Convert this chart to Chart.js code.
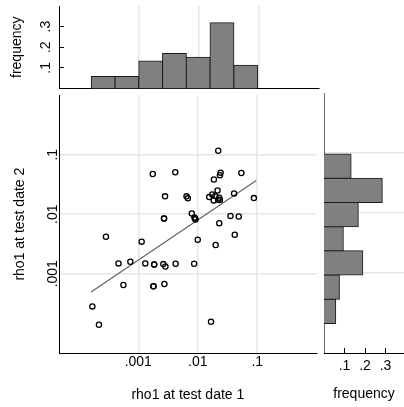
<!DOCTYPE html>
<html>
<head>
<meta charset="utf-8">
<script src="https://cdn.jsdelivr.net/npm/chart.js@4.4.0/dist/chart.umd.min.js"></script>
<style>
  html, body { margin: 0; padding: 0; background: #fff; }
  #wrap { position: relative; width: 404px; height: 407px; }
  #wrap div { position: absolute; }
</style>
</head>
<body>
<div id="wrap">
  <div style="left:0;top:0;width:322px;height:90px"><canvas id="topHist"></canvas></div>
  <div style="left:0;top:90px;width:322px;height:317px"><canvas id="scatter"></canvas></div>
  <div style="left:322px;top:90px;width:82px;height:317px"><canvas id="rightHist"></canvas></div>
</div>
<script>
// rho1 at the two test dates (one entry per subject)
var rho1Date1 = [0.0221, 0.00175, 0.00419, 0.0242, 0.0236, 0.0541, 0.0187, 0.00282, 0.00647, 0.00681,
                 0.0215, 0.0175, 0.0156, 0.0197, 0.0230, 0.0221, 0.0185, 0.0236, 0.0408, 0.0879,
                 0.00794, 0.00879, 0.00914, 0.00902, 0.00271, 0.00271, 0.0355, 0.0489, 0.0230, 0.0419,
                 0.0100, 0.0200, 0.000286, 0.00114, 0.000465, 0.000736, 0.00131, 0.00185, 0.00185, 0.00264,
                 0.00286, 0.00425, 0.00869, 0.000562, 0.00180, 0.00180, 0.00275, 0.000169, 0.000218, 0.0167];
var rho1Date2 = [0.117, 0.0476, 0.0508, 0.0501, 0.0453, 0.0494, 0.0383, 0.0200, 0.0200, 0.0185,
                 0.0251, 0.0215, 0.0195, 0.0202, 0.0190, 0.0175, 0.0171, 0.0173, 0.0224, 0.0187,
                 0.0103, 0.00879, 0.00815, 0.00851, 0.00847, 0.00847, 0.00938, 0.00914, 0.00708, 0.00453,
                 0.00373, 0.00304, 0.00419, 0.00346, 0.00149, 0.00159, 0.00149, 0.00143, 0.00143, 0.00145,
                 0.00132, 0.00147, 0.00147, 0.000647, 0.000615, 0.000615, 0.000673, 0.000282, 0.000139, 0.000156];

// fitted line (log-log), end points
var fitDate1 = [0.000161, 0.0962];
var fitDate2 = [0.000494, 0.0369];

// marginal histograms: log10 bin centres and share of observations
var topBinLog = [-3.597, -3.201, -2.805, -2.409, -2.013, -1.617, -1.221];
var topFreq = [0.058, 0.058, 0.133, 0.170, 0.151, 0.319, 0.113];
var rightBinLog = [-3.638, -3.235, -2.832, -2.429, -2.026, -1.623, -1.220];
var rightFreq = [0.057, 0.075, 0.189, 0.094, 0.167, 0.284, 0.132];

var logTicks = [0.001, 0.01, 0.1];
var freqTicks = [0.1, 0.2, 0.3];

Chart.defaults.font.family = '"Liberation Sans", Arial, sans-serif';
Chart.defaults.font.size = 14;
Chart.defaults.color = '#000';
Chart.defaults.animation = false;
Chart.defaults.events = [];
Chart.defaults.plugins.legend.display = false;
Chart.defaults.plugins.tooltip.enabled = false;
Chart.defaults.maintainAspectRatio = false;

var logMin = Math.pow(10, -4.333);
var gridColor = '#e6e6e6';

function fmt(v) { return String(v).replace(/^0\./, '.'); }
function setTicks(list) {
  return function(scale) { scale.ticks = list.map(function(v) { return {value: v}; }); };
}
// fixed axis sizes so the three plot areas line up
function fixWidth(w) {
  return function(scale) {
    scale.width = w;
    scale.paddingTop = 0; scale.paddingBottom = 0;
  };
}
function fixHeight(h) {
  return function(scale) {
    scale.height = h;
    scale.paddingLeft = 0; scale.paddingRight = 0;
  };
}

// top histogram
new Chart(document.getElementById('topHist'), {
  type: 'bar',
  data: {
    datasets: [{
      data: topBinLog.map(function(c, i) { return {x: Math.pow(10, c), y: topFreq[i]}; }),
      backgroundColor: '#808080',
      borderColor: '#1a1a1a',
      borderWidth: 1,
      borderSkipped: 'start',
      inflateAmount: 0.5,
      barPercentage: 1,
      categoryPercentage: 1
    }]
  },
  options: {
    layout: { padding: { top: 6, right: 3, bottom: 1.5 } },
    scales: {
      x: {
        type: 'logarithmic', min: logMin, max: 1, offset: false,
        afterBuildTicks: setTicks(logTicks), afterFit: fixHeight(0),
        grid: { color: gridColor, lineWidth: 1.5, drawTicks: false, offset: false },
        border: { color: '#000' },
        ticks: { display: false }
      },
      y: {
        min: 0, max: 0.4,
        afterBuildTicks: setTicks(freqTicks), afterFit: fixWidth(59),
        grid: { drawOnChartArea: false, tickLength: -5, color: '#000' },
        border: { color: '#000' },
        ticks: { callback: fmt, minRotation: 90, maxRotation: 90, crossAlign: 'center', padding: 12.2 },
        title: { display: true, text: 'frequency', padding: { top: 8.6, bottom: 0 } }
      }
    }
  }
});

// main scatter
new Chart(document.getElementById('scatter'), {
  type: 'scatter',
  data: {
    datasets: [{
      data: rho1Date1.map(function(x, i) { return {x: x, y: rho1Date2[i]}; }),
      pointRadius: 2.6,
      borderColor: '#000',
      borderWidth: 1.3,
      backgroundColor: 'rgba(0,0,0,0)'
    }, {
      type: 'line',
      data: fitDate1.map(function(x, i) { return {x: x, y: fitDate2[i]}; }),
      pointRadius: 0,
      borderColor: '#606060',
      borderWidth: 1.1
    }]
  },
  options: {
    layout: { padding: { top: 3, right: 3 } },
    scales: {
      x: {
        type: 'logarithmic', min: logMin, max: 1,
        afterBuildTicks: setTicks(logTicks), afterFit: fixHeight(54),
        grid: { color: gridColor, lineWidth: 1.5, drawTicks: false },
        border: { color: '#000' },
        ticks: { callback: fmt, padding: 0.6, maxRotation: 0, autoSkip: false },
        title: { display: true, text: 'rho1 at test date 1', padding: { top: 0, bottom: 3.8 } }
      },
      y: {
        type: 'logarithmic', min: logMin, max: 1,
        afterBuildTicks: setTicks(logTicks), afterFit: fixWidth(59),
        grid: { color: gridColor, lineWidth: 1.5, drawTicks: false },
        border: { color: '#000' },
        ticks: { callback: fmt, minRotation: 90, maxRotation: 90, crossAlign: 'center', padding: -7.4, autoSkip: false },
        title: { display: true, text: 'rho1 at test date 2', padding: { top: 11.6, bottom: 0 } }
      }
    }
  }
});

// right histogram
new Chart(document.getElementById('rightHist'), {
  type: 'bar',
  data: {
    datasets: [{
      data: rightBinLog.map(function(c, i) { return {x: rightFreq[i], y: Math.pow(10, c)}; }),
      backgroundColor: '#808080',
      borderColor: '#1a1a1a',
      borderWidth: 1,
      borderSkipped: 'start',
      inflateAmount: 0.5,
      barPercentage: 1,
      categoryPercentage: 1
    }]
  },
  options: {
    indexAxis: 'y',
    layout: { padding: { top: 3 } },
    scales: {
      y: {
        type: 'logarithmic', min: logMin, max: 1, offset: false,
        afterBuildTicks: setTicks(logTicks), afterFit: fixWidth(2),
        grid: { color: gridColor, lineWidth: 1.5, drawTicks: false, offset: false },
        border: { color: '#707070' },
        ticks: { display: false }
      },
      x: {
        min: 0, max: 0.39,
        afterBuildTicks: setTicks(freqTicks), afterFit: fixHeight(54),
        grid: { drawOnChartArea: false, tickLength: -5, color: '#000' },
        border: { color: '#000' },
        ticks: { callback: fmt, padding: 9.6, maxRotation: 0 },
        title: { display: true, text: 'frequency', padding: { top: 0, bottom: 4.8 } }
      }
    }
  }
});
</script>
</body>
</html>
